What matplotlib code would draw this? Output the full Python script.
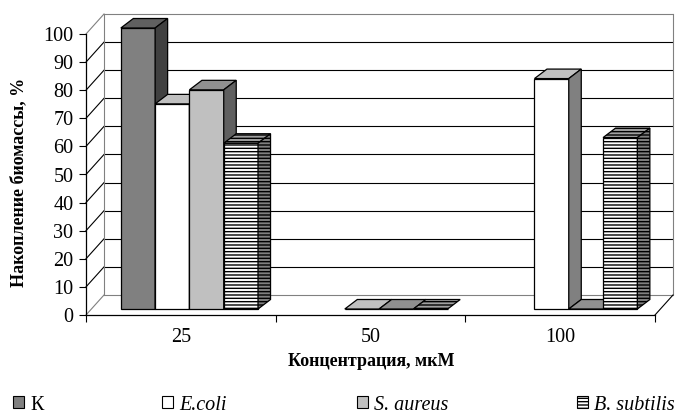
import numpy as np
import matplotlib
matplotlib.use("Agg")
import matplotlib.pyplot as plt
from matplotlib.patches import Polygon, Patch

# ---- data ----
concentrations = ["25", "50", "100"]
series_names = ["К", "E.coli", "S. aureus", "B. subtilis"]
k_vals = [100, np.nan, np.nan]
ecoli_vals = [73, 0, 82]
saureus_vals = [78, 0, 0]
bsub_vals = [59, 0, 61]
y_ticks = [0, 10, 20, 30, 40, 50, 60, 70, 80, 90, 100]

plt.rcParams["font.family"] = ["Liberation Serif", "DejaVu Serif"]
plt.rcParams["hatch.linewidth"] = 1.0

W, H = 679, 419
fig = plt.figure(figsize=(W / 100, H / 100), dpi=100)
ax = fig.add_axes([86 / W, 104 / H, 569 / W, 281 / H])
ax.set_xlim(0, 3)
ax.set_ylim(0, 100)

XPX = 569 / 3.0      # px per category unit
YPX = 281 / 100.0    # px per value unit

# 3-D geometry (pixel offsets converted to data units)
WDX, WDY = 18 / XPX, 20 / YPX          # wall depth
FDX, FDY = 8.6 / XPX, 6 / YPX          # bar front plane offset
BDX, BDY = 12.5 / XPX, 9.5 / YPX       # bar depth
BW = 34.3 / XPX                        # bar width

grey = "#808080"
# --- walls ---
for v in y_ticks:
    col = grey if v in (0, 100) else "black"
    ax.plot([WDX, 3 + WDX], [v + WDY, v + WDY], color=col, lw=0.8,
            clip_on=False, zorder=0.5, solid_capstyle="butt")
    ax.plot([0, WDX], [v, v + WDY], color=col, lw=0.8, clip_on=False, zorder=0.5)
ax.plot([WDX, WDX], [WDY, 100 + WDY], color=grey, lw=0.8, clip_on=False, zorder=0.6)
ax.plot([3 + WDX, 3 + WDX], [WDY, 100 + WDY], color=grey, lw=0.8, clip_on=False, zorder=0.6)
ax.plot([3, 3 + WDX], [0, WDY], color="black", lw=0.8, clip_on=False, zorder=0.6)

styles = [
    dict(front="#808080", top="#606060", side="#404040", hatch=None),
    dict(front="#FFFFFF", top="#C0C0C0", side="#808080", hatch=None),
    dict(front="#C0C0C0", top="#909090", side="#606060", hatch=None),
    dict(front="#FFFFFF", top="#A0A0A0", side="#808080", hatch="-----"),
]
all_vals = [k_vals, ecoli_vals, saureus_vals, bsub_vals]
centers = np.arange(len(concentrations)) + 0.5
n = len(series_names)

for s, (vals, st) in enumerate(zip(all_vals, styles)):
    lefts = centers - n * BW / 2 + s * BW + FDX
    vals_arr = np.array(vals, dtype=float)
    mask = ~np.isnan(vals_arr)
    bars = ax.bar(lefts[mask], vals_arr[mask], width=BW, bottom=FDY, align="edge",
                  color=st["front"], edgecolor="black", linewidth=0.9,
                  hatch=st["hatch"])
    for rect, xl, v, g in zip(bars, lefts[mask], vals_arr[mask], np.where(mask)[0]):
        z = 2 + g * 0.1 + s * 0.01
        rect.set_zorder(z)
        rect.set_clip_on(False)
        xr = xl + BW
        ytop = v + FDY
        top = Polygon([(xl, ytop), (xr, ytop), (xr + BDX, ytop + BDY), (xl + BDX, ytop + BDY)],
                      closed=True, facecolor=st["top"], edgecolor="black", lw=0.9,
                      hatch=st["hatch"], zorder=z, clip_on=False)
        ax.add_patch(top)
        if v > 0:
            side = Polygon([(xr, FDY), (xr + BDX, FDY + BDY), (xr + BDX, ytop + BDY), (xr, ytop)],
                           closed=True, facecolor=st["side"], edgecolor="black", lw=0.9,
                           hatch=st["hatch"], zorder=z, clip_on=False)
            ax.add_patch(side)

# --- axes styling ---
for sp in ("top", "right"):
    ax.spines[sp].set_visible(False)
ax.spines["left"].set_linewidth(0.9)
ax.spines["bottom"].set_linewidth(0.9)
ax.spines["left"].set_zorder(3)
ax.spines["bottom"].set_zorder(3)
ax.set_yticks(y_ticks)
ax.set_yticklabels([str(v) for v in y_ticks])
ax.tick_params(axis="y", direction="out", length=5, width=0.8, pad=4, labelsize=14.5)
ax.set_xticks([0, 1, 2, 3])
ax.set_xticklabels([])
ax.tick_params(axis="x", which="major", direction="out", length=5, width=0.8)
ax.set_xticks(centers, minor=True)
ax.set_xticklabels(concentrations, minor=True)
ax.tick_params(axis="x", which="minor", length=0, pad=9, labelsize=14.5)
ax.set_facecolor("none")

fig.text(19 / W, 1 - 182 / H, "Накопление биомассы, %", rotation=90,
         ha="center", va="center", fontsize=13, fontweight="bold")
fig.text(371 / W, 1 - 362 / H, "Концентрация, мкМ",
         ha="center", va="center", fontsize=13, fontweight="bold")

# --- legend (one entry each, positioned like the reference) ---
leg_x = [13, 162, 357, 577]
leg_face = ["#808080", "#FFFFFF", "#C0C0C0", "#FFFFFF"]
leg_hatch = [None, None, None, "-----"]
leg_style = ["normal", "italic", "italic", "italic"]
for name, x, fc, ht, fs in zip(series_names, leg_x, leg_face, leg_hatch, leg_style):
    h = Patch(facecolor=fc, edgecolor="black", hatch=ht, linewidth=0.8)
    fig.legend([h], [name], loc="center left", bbox_to_anchor=(x / W, 1 - 405 / H),
               frameon=False, borderpad=0, borderaxespad=0, handlelength=0.55,
               handleheight=0.55, handletextpad=0.3,
               prop={"size": 14.5, "style": fs, "family": "Liberation Serif"})

fig.savefig("out.png", dpi=100)
